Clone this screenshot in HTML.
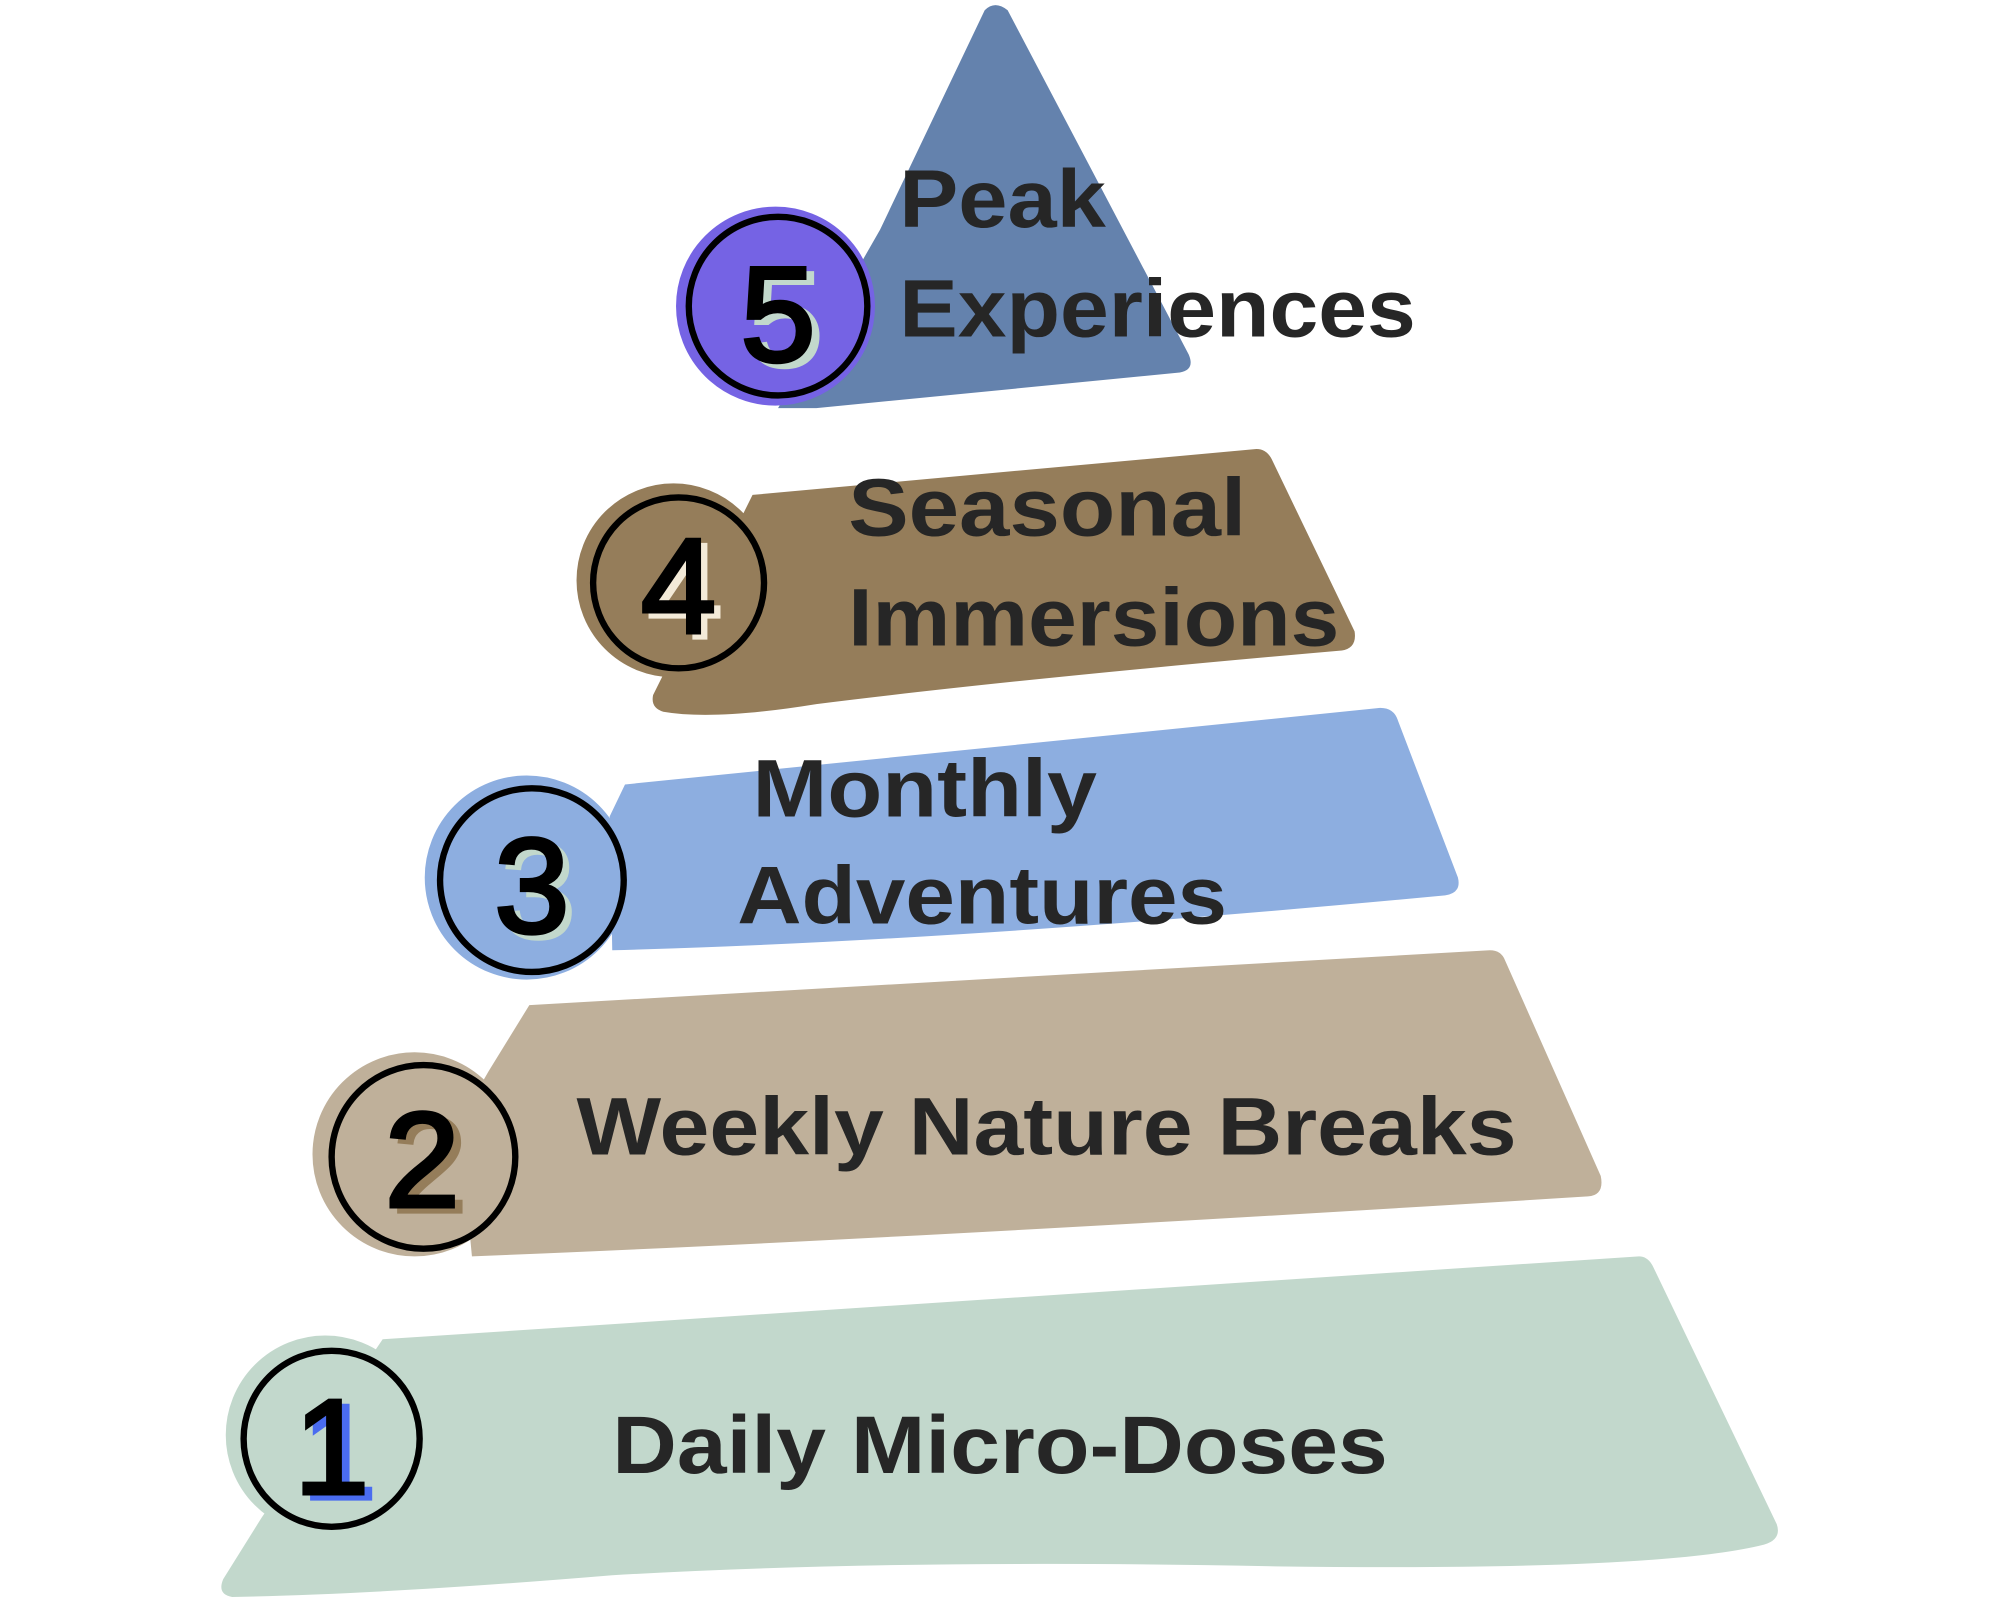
<!DOCTYPE html>
<html><head><meta charset="utf-8"><style>
html,body{margin:0;padding:0;background:#fff;}
svg{display:block;}
text{font-family:"Liberation Sans",sans-serif;font-weight:bold;fill:#262626;}
.num{font-family:"Liberation Sans",sans-serif;font-weight:normal;font-size:106px;}
</style></head><body>
<svg width="2000" height="1600" viewBox="0 0 1568 1254.4" xmlns="http://www.w3.org/2000/svg">
<path d="M772,8 Q780,0 790,8 L932,278 Q937,290 925,292 L640,320 L610,320 L690,180 Z" fill="#6482ad"/>
<path d="M590,388 L985,352 Q993,352 997,360 L1062,495 Q1064,508 1052,510 Q800,532 640,552 Q560,565 520,558 Q510,555 512,545 Z" fill="#957d5a"/>
<path d="M490,615 L1082,555 Q1093,555 1096,565 L1143,688 Q1146,700 1133,702 Q750,738 480,745 L478,640 Z" fill="#8daee0"/>
<path d="M415,788 L1168,745 Q1177,745 1180,753 L1255,922 Q1258,937 1245,938 Q700,972 370,985 L360,880 L383,840 Z" fill="#bfb09a"/>
<path d="M300,1050 L1285,985 Q1292,985 1296,993 L1393,1195 Q1397,1207 1383,1211 Q1300,1232 1000,1228 Q700,1222 480,1235 Q300,1250 182,1252 Q170,1250 175,1238 L205,1190 Z" fill="#c2d8cc"/>

<g stroke="#000" stroke-width="5">
<circle cx="608" cy="240" r="74" fill="#7563e4" stroke="#7563e4" stroke-width="8"/>
<circle cx="610" cy="240" r="70" fill="#7563e4"/>
<circle cx="528" cy="455" r="72" fill="#957d5a" stroke="#957d5a" stroke-width="8"/>
<circle cx="532" cy="457" r="67" fill="#957d5a"/>
<circle cx="413" cy="688" r="76" fill="#8daee0" stroke="#8daee0" stroke-width="8"/>
<circle cx="417" cy="690" r="72" fill="#8daee0"/>
<circle cx="325" cy="905" r="76" fill="#bfb09a" stroke="#bfb09a" stroke-width="8"/>
<circle cx="332" cy="907" r="72" fill="#bfb09a"/>
<circle cx="255" cy="1125" r="74" fill="#c2d8cc" stroke="#c2d8cc" stroke-width="8"/>
<circle cx="260" cy="1128" r="69" fill="#c2d8cc"/>
</g>
<g stroke-width="3">
<text class="num" x="616" y="287" text-anchor="middle" style="fill:#c2d8cc;stroke:#c2d8cc">5</text>
<text class="num" x="610" y="283" text-anchor="middle" style="fill:#000;stroke:#000">5</text>
<text class="num" x="537" y="500" text-anchor="middle" style="fill:#f3ead8;stroke:#f3ead8">4</text>
<text class="num" x="532" y="496" text-anchor="middle" style="fill:#000;stroke:#000">4</text>
<text class="num" x="422" y="735" text-anchor="middle" style="fill:#c2d8cc;stroke:#c2d8cc">3</text>
<text class="num" x="417" y="731" text-anchor="middle" style="fill:#000;stroke:#000">3</text>
<text class="num" x="337" y="950" text-anchor="middle" style="fill:#957d5a;stroke:#957d5a">2</text>
<text class="num" x="331" y="946" text-anchor="middle" style="fill:#000;stroke:#000">2</text>
<text class="num" x="266" y="1175" text-anchor="middle" style="fill:#4a6cf0;stroke:#4a6cf0">1</text>
<text class="num" x="260" y="1171" text-anchor="middle" style="fill:#000;stroke:#000">1</text>
</g>

<g font-size="64">
<text x="705" y="178" textLength="162" lengthAdjust="spacingAndGlyphs">Peak</text>
<text x="705" y="264" textLength="405" lengthAdjust="spacingAndGlyphs">Experiences</text>
<text x="665" y="420" textLength="312" lengthAdjust="spacingAndGlyphs">Seasonal</text>
<text x="665" y="506" textLength="385" lengthAdjust="spacingAndGlyphs">Immersions</text>
<text x="590" y="640" textLength="270" lengthAdjust="spacingAndGlyphs">Monthly</text>
<text x="578" y="724" textLength="384" lengthAdjust="spacingAndGlyphs">Adventures</text>
<text x="452" y="905" textLength="737" lengthAdjust="spacingAndGlyphs">Weekly Nature Breaks</text>
<text x="480" y="1155" textLength="608" lengthAdjust="spacingAndGlyphs">Daily Micro-Doses</text>
</g>
</svg>
</body></html>
